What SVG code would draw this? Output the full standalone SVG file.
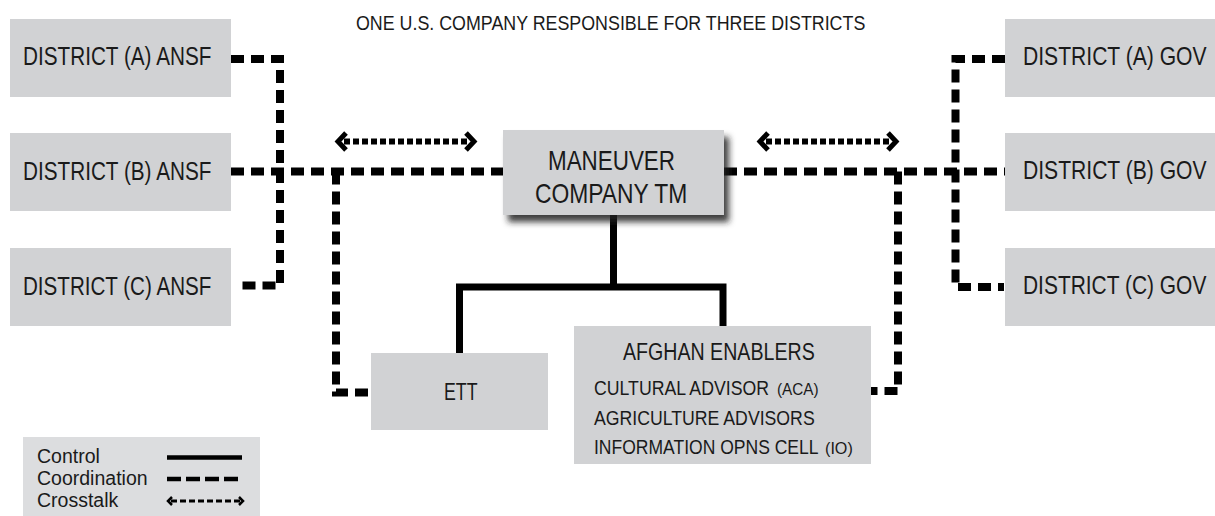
<svg xmlns="http://www.w3.org/2000/svg" width="1215" height="516" viewBox="0 0 1215 516">
  <style>
    .box { fill: #d1d2d4; }
    .t { font-family: "Liberation Sans", Arial, sans-serif; fill: #1a1a1a; }
    .d { font-size: 25px; }
    .coord { fill: none; stroke: #000; stroke-width: 8; stroke-dasharray: 13 7; }
    .ctrl { fill: none; stroke: #000; stroke-width: 7; stroke-linejoin: miter; }
    .xdots { fill: none; stroke: #000; stroke-width: 6; stroke-dasharray: 6 3; }
    .chev { fill: none; stroke: #000; stroke-width: 5; stroke-linejoin: miter; stroke-linecap: butt; }
    .lg { font-family: "Liberation Sans", Arial, sans-serif; font-size: 19.5px; fill: #1a1a1a; }
  </style>
  <defs>
    <filter id="shadow" x="-10%" y="-10%" width="130%" height="140%">
      <feDropShadow dx="5" dy="7" stdDeviation="3" flood-color="#222" flood-opacity="0.85"/>
    </filter>
  </defs>

  <rect width="1215" height="516" fill="#fff"/>

  <text id="title" class="t" font-size="21" transform="translate(356,30) scale(0.85,1)">ONE U.S. COMPANY RESPONSIBLE FOR THREE DISTRICTS</text>

  <g id="connectors">
    <!-- coordination (left) -->
    <path class="coord" d="M231 59 H280 V285.5 H237"/>
    <path class="coord" d="M231 171.5 H503"/>
    <path class="coord" d="M336 171.5 V392.5 H371"/>
    <!-- coordination (right) -->
    <path class="coord" d="M724 171.5 H1005"/>
    <path class="coord" d="M898 171.5 V391 H871"/>
    <path class="coord" d="M1005 59 H955.5 V287 H1004"/>
    <!-- control -->
    <path class="ctrl" d="M613.5 215 V287"/>
    <path class="ctrl" d="M459.5 353 V287 H723 V326"/>
    <!-- crosstalk left -->
    <g id="crosstalk-left">
      <path class="xdots" d="M344 141.5 H468"/>
      <path class="chev" d="M346 133 L338 141.5 L346 150"/>
      <path class="chev" d="M466 133 L474 141.5 L466 150"/>
    </g>
    <!-- crosstalk right -->
    <g id="crosstalk-right">
      <path class="xdots" d="M766 141.5 H890"/>
      <path class="chev" d="M768 133 L760 141.5 L768 150"/>
      <path class="chev" d="M888 133 L896 141.5 L888 150"/>
    </g>
  </g>

  <g id="ansf-a">
    <rect class="box" x="10" y="19" width="221" height="78"/>
    <text class="t d" transform="translate(23,65) scale(0.829,1)">DISTRICT (A) ANSF</text>
  </g>
  <g id="ansf-b">
    <rect class="box" x="10" y="133" width="221" height="78"/>
    <text class="t d" transform="translate(23,180) scale(0.829,1)">DISTRICT (B) ANSF</text>
  </g>
  <g id="ansf-c">
    <rect class="box" x="10" y="248" width="221" height="78"/>
    <text class="t d" transform="translate(23,295) scale(0.824,1)">DISTRICT (C) ANSF</text>
  </g>

  <g id="gov-a">
    <rect class="box" x="1005" y="19" width="210" height="78"/>
    <text class="t d" transform="translate(1023,65) scale(0.844,1)">DISTRICT (A) GOV</text>
  </g>
  <g id="gov-b">
    <rect class="box" x="1005" y="133" width="210" height="78"/>
    <text class="t d" transform="translate(1023,179) scale(0.844,1)">DISTRICT (B) GOV</text>
  </g>
  <g id="gov-c">
    <rect class="box" x="1005" y="248" width="210" height="78"/>
    <text class="t d" transform="translate(1023,294) scale(0.838,1)">DISTRICT (C) GOV</text>
  </g>

  <g id="maneuver">
    <rect class="box" x="503" y="130" width="221" height="85" filter="url(#shadow)"/>
    <text class="t" font-size="27" transform="translate(548,170) scale(0.83,1)">MANEUVER</text>
    <text class="t" font-size="27" transform="translate(535,203) scale(0.847,1)">COMPANY TM</text>
  </g>

  <g id="ett">
    <rect class="box" x="371" y="353" width="177" height="77"/>
    <text class="t" font-size="24" transform="translate(444,400) scale(0.74,1)">ETT</text>
  </g>

  <g id="afghan-enablers">
    <rect class="box" x="574" y="326" width="297" height="138"/>
    <text class="t" font-size="23.5" transform="translate(623,360) scale(0.835,1)">AFGHAN ENABLERS</text>
    <text class="t" font-size="21" transform="translate(594,395) scale(0.843,1)">CULTURAL ADVISOR</text>
    <text class="t" font-size="17" transform="translate(777,395) scale(0.9,1)">(ACA)</text>
    <text class="t" font-size="21" transform="translate(594,425) scale(0.842,1)">AGRICULTURE ADVISORS</text>
    <text class="t" font-size="21" transform="translate(594,454) scale(0.835,1)">INFORMATION OPNS CELL</text>
    <text class="t" font-size="17" transform="translate(825,454) scale(0.95,1)">(IO)</text>
  </g>

  <g id="legend">
    <rect x="23" y="437" width="237" height="79" fill="#dcdddf"/>
    <text class="lg" x="37" y="463">Control</text>
    <text class="lg" x="37" y="485">Coordination</text>
    <text class="lg" x="37" y="507">Crosstalk</text>
    <path d="M167 457.5 H242" stroke="#000" stroke-width="4.5" fill="none"/>
    <path d="M167 479 H242" stroke="#000" stroke-width="4.5" stroke-dasharray="14 5" fill="none"/>
    <path d="M171 501 H240" stroke="#000" stroke-width="3" stroke-dasharray="6 3" fill="none"/>
    <path d="M172 497 L168 501 L172 505" stroke="#000" stroke-width="2.5" fill="none"/>
    <path d="M239 497 L243 501 L239 505" stroke="#000" stroke-width="2.5" fill="none"/>
  </g>
</svg>
